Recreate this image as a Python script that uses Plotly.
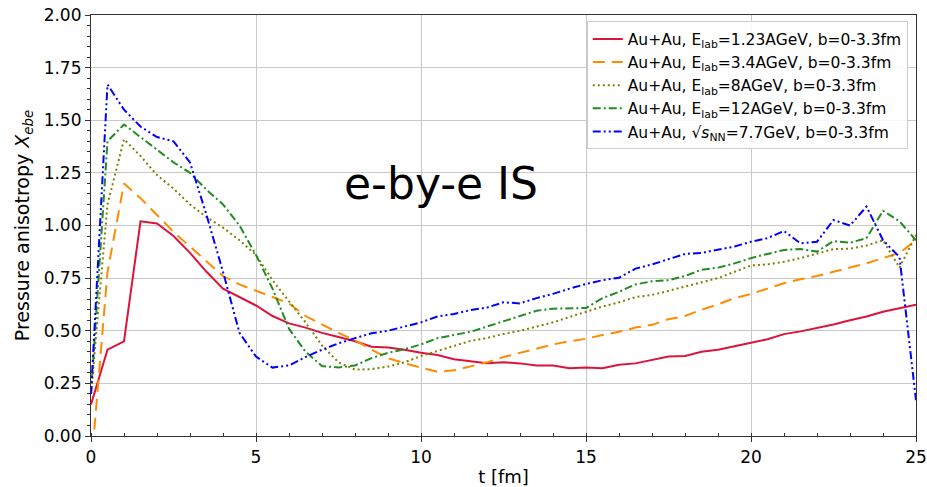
import plotly.graph_objects as go

t_red = [0, 0.5, 1, 1.5, 2, 2.5, 3, 3.5, 4, 4.5, 5, 5.5, 6, 6.5, 7, 7.5, 8, 8.5, 9, 9.5, 10,
         10.5, 11, 11.5, 12, 12.5, 13, 13.5, 14, 14.5, 15, 15.5, 16, 16.5, 17, 17.5, 18, 18.5,
         19, 19.5, 20, 20.5, 21, 21.5, 22, 22.5, 23, 23.5, 24, 24.5, 25]
v_red = [0.15, 0.41, 0.45, 1.02, 1.01, 0.95, 0.87, 0.78, 0.70, 0.66, 0.62, 0.57, 0.535, 0.515,
         0.49, 0.47, 0.45, 0.424, 0.42, 0.41, 0.395, 0.385, 0.365, 0.355, 0.346, 0.35, 0.345,
         0.335, 0.335, 0.322, 0.325, 0.322, 0.338, 0.345, 0.36, 0.378, 0.38, 0.40, 0.41, 0.425,
         0.443, 0.46, 0.484, 0.497, 0.512, 0.53, 0.55, 0.568, 0.59, 0.606, 0.624]

t_orange = [0.1, 0.5, 1, 1.5, 2, 2.5, 3, 3.5, 4, 4.5, 5, 5.5, 6, 6.5, 7, 7.5, 8, 8.5, 9, 9.5,
            10, 10.5, 11, 11.5, 12, 12.5, 13, 13.5, 14, 14.5, 15, 15.5, 16, 16.5, 17, 17.5, 18,
            18.5, 19, 19.5, 20, 20.5, 21, 21.5, 22, 22.5, 23, 23.5, 24, 24.5, 25]
v_orange = [0.03, 0.78, 1.20, 1.13, 1.05, 0.97, 0.90, 0.83, 0.76, 0.72, 0.69, 0.66, 0.63,
            0.57, 0.53, 0.49, 0.455, 0.41, 0.37, 0.345, 0.325, 0.305, 0.312, 0.33, 0.35,
            0.375, 0.395, 0.415, 0.435, 0.45, 0.462, 0.48, 0.495, 0.515, 0.528, 0.555, 0.57,
            0.60, 0.625, 0.655, 0.675, 0.70, 0.726, 0.745, 0.76, 0.78, 0.80, 0.82, 0.845,
            0.87, 0.93]

t_olive = [0, 0.5, 1, 1.5, 2, 2.5, 3, 3.5, 4, 4.5, 5, 5.5, 6, 6.5, 7, 7.5, 8, 8.5, 9, 9.5,
           10, 10.5, 11, 11.5, 12, 12.5, 13, 13.5, 14, 14.5, 15, 15.5, 16, 16.5, 17, 17.5, 18,
           18.5, 19, 19.5, 20, 20.5, 21, 21.5, 22, 22.5, 23, 23.5, 24, 24.5, 25]
v_olive = [0.2, 1.10, 1.41, 1.33, 1.24, 1.175, 1.10, 1.04, 0.99, 0.93, 0.86, 0.74, 0.64, 0.54,
           0.43, 0.35, 0.315, 0.318, 0.33, 0.35, 0.38, 0.405, 0.43, 0.452, 0.465, 0.485, 0.5,
           0.52, 0.54, 0.565, 0.59, 0.615, 0.635, 0.66, 0.67, 0.69, 0.71, 0.73, 0.75, 0.78,
           0.81, 0.815, 0.828, 0.845, 0.868, 0.888, 0.89, 0.905, 0.93, 0.80, 0.955]

t_green = [0, 0.5, 1, 1.5, 2, 2.5, 3, 3.5, 4, 4.5, 5, 5.5, 6, 6.5, 7, 7.5, 8, 8.5, 9, 9.5,
           10, 10.5, 11, 11.5, 12, 12.5, 13, 13.5, 14, 14.5, 15, 15.5, 16, 16.5, 17, 17.5, 18,
           18.5, 19, 19.5, 20, 20.5, 21, 21.5, 22, 22.5, 23, 23.5, 24, 24.5, 25]
v_green = [0.2, 1.40, 1.48, 1.42, 1.36, 1.30, 1.25, 1.17, 1.10, 1.00, 0.86, 0.70, 0.51, 0.40,
           0.332, 0.326, 0.335, 0.37, 0.395, 0.412, 0.435, 0.465, 0.48, 0.495, 0.52, 0.545,
           0.57, 0.595, 0.605, 0.605, 0.608, 0.655, 0.685, 0.72, 0.735, 0.74, 0.76, 0.79,
           0.80, 0.82, 0.845, 0.865, 0.884, 0.888, 0.876, 0.926, 0.918, 0.94, 1.07, 1.02, 0.93]

t_blue = [0, 0.5, 1, 1.5, 2, 2.5, 3, 3.5, 4, 4.5, 5, 5.5, 6, 6.5, 7, 7.5, 8, 8.5, 9, 9.5, 10,
          10.5, 11, 11.5, 12, 12.5, 13, 13.5, 14, 14.5, 15, 15.5, 16, 16.5, 17, 17.5, 18, 18.5,
          19, 19.5, 20, 20.5, 21, 21.5, 22, 22.5, 23, 23.5, 24, 24.5, 25]
v_blue = [0.2, 1.67, 1.55, 1.47, 1.42, 1.40, 1.30, 1.05, 0.78, 0.49, 0.377, 0.325, 0.335,
          0.375, 0.41, 0.44, 0.465, 0.488, 0.50, 0.52, 0.54, 0.568, 0.58, 0.598, 0.61, 0.635,
          0.63, 0.655, 0.675, 0.70, 0.722, 0.74, 0.752, 0.795, 0.815, 0.84, 0.865, 0.87,
          0.885, 0.90, 0.923, 0.94, 0.974, 0.915, 0.923, 1.026, 1.0, 1.09, 0.93, 0.85, 0.17]

labels = [
    "Au+Au, E<sub>lab</sub>=1.23AGeV, b=0-3.3fm",
    "Au+Au, E<sub>lab</sub>=3.4AGeV, b=0-3.3fm",
    "Au+Au, E<sub>lab</sub>=8AGeV, b=0-3.3fm",
    "Au+Au, E<sub>lab</sub>=12AGeV, b=0-3.3fm",
    "Au+Au, √<i>s</i><sub>NN</sub>=7.7GeV, b=0-3.3fm",
]
colors = ["#DC143C", "#FF8C00", "#808000", "#228B22", "#0000FF"]
dashes = ["solid", "12px,7px", "2px,3px", "8px,3px,2px,3px", "8px,3px,2px,3px,2px,3px"]

series = [(t_red, v_red), (t_orange, v_orange), (t_olive, v_olive),
          (t_green, v_green), (t_blue, v_blue)]

fig = go.Figure()
for (tx, vy), lab, col, dsh in zip(series, labels, colors, dashes):
    fig.add_trace(go.Scatter(x=tx, y=vy, mode="lines", name=lab,
                             line=dict(color=col, width=2, dash=dsh)))

font = "DejaVu Sans, sans-serif"
fig.update_layout(
    width=927, height=487,
    margin=dict(l=91, r=11, t=15, b=51),
    plot_bgcolor="white", paper_bgcolor="white",
    font=dict(family=font, color="black"),
    showlegend=True,
    legend=dict(x=0.99, y=0.985, xanchor="right", yanchor="top",
                bgcolor="rgba(255,255,255,0.85)", bordercolor="#cccccc", borderwidth=1,
                font=dict(size=15.5, family=font), tracegroupgap=0, itemwidth=30),
    annotations=[dict(x=10.6, y=1.2, xref="x", yref="y", text="e-by-e IS",
                      showarrow=False, font=dict(size=44, family=font, color="black"))],
)
fig.update_xaxes(
    range=[0, 25], tickvals=[0, 5, 10, 15, 20, 25], automargin=False,
    showgrid=True, gridcolor="#c8c8c8", gridwidth=1,
    showline=True, linecolor="#333333", linewidth=1.2, mirror=True,
    ticks="outside", ticklen=5, tickcolor="#333333",
    tickfont=dict(size=17), zeroline=False,
    minor=dict(dtick=1, ticks="inside", ticklen=3, tickcolor="#333333", showgrid=False),
    title=dict(text="t [fm]", font=dict(size=18), standoff=4),
)
fig.update_yaxes(
    range=[0, 2], tickvals=[0, 0.25, 0.5, 0.75, 1.0, 1.25, 1.5, 1.75, 2.0],
    tickformat=".2f", automargin=False,
    showgrid=True, gridcolor="#c8c8c8", gridwidth=1,
    showline=True, linecolor="#333333", linewidth=1.2, mirror=True,
    ticks="outside", ticklen=5, tickcolor="#333333",
    tickfont=dict(size=17), zeroline=False,
    minor=dict(dtick=0.05, tick0=0, ticks="outside", ticklen=3, tickcolor="#333333", showgrid=False),
    title=dict(text="Pressure anisotropy <i>X</i><sub><i>ebe</i></sub>", font=dict(size=19), standoff=8),
)

fig.write_html("out.html")
